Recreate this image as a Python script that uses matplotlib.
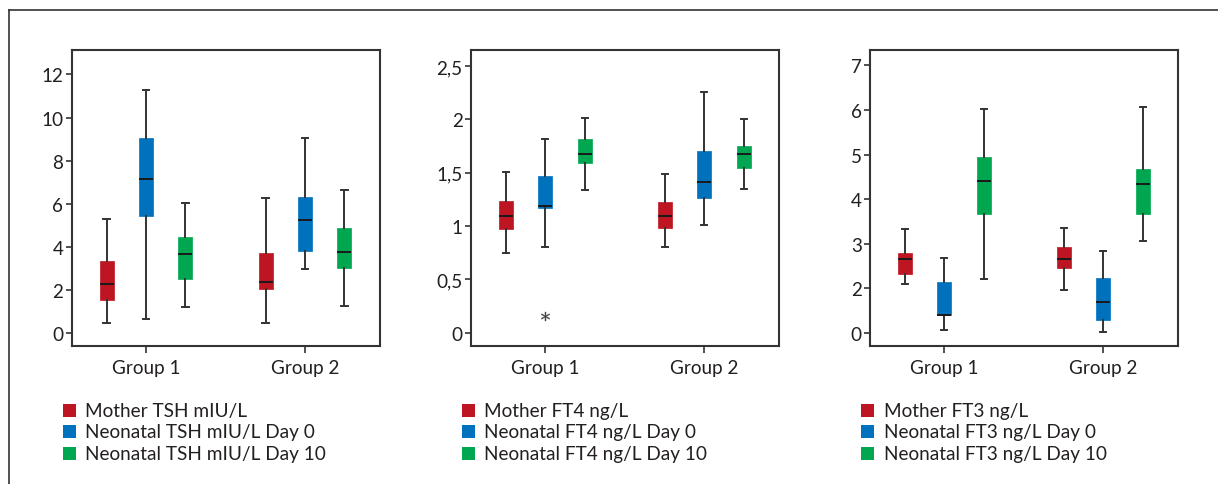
import matplotlib
matplotlib.use("Agg")
import matplotlib.pyplot as plt
from matplotlib.patches import Rectangle
from matplotlib.lines import Line2D

plt.rcParams['font.family'] = ['Lato', 'DejaVu Sans']

groups = ['Group 1', 'Group 2']
colors = ['#BE1522', '#0071BC', '#00A650']

# five-number summaries per series: [low, q1, median, q3, high] for Group 1 and Group 2
tsh_mother = [[0.48, 1.55, 2.28, 3.33, 5.28], [0.48, 2.06, 2.38, 3.70, 6.27]]
tsh_day0 = [[0.64, 5.45, 7.15, 9.04, 11.3], [2.97, 3.82, 5.26, 6.30, 9.06]]
tsh_day10 = [[1.22, 2.52, 3.67, 4.44, 6.05], [1.24, 3.03, 3.78, 4.86, 6.66]]

ft4_mother = [[0.746, 0.974, 1.092, 1.239, 1.504], [0.799, 0.983, 1.092, 1.23, 1.489]]
ft4_day0 = [[0.799, 1.17, 1.186, 1.467, 1.816], [1.011, 1.264, 1.417, 1.707, 2.257]]
ft4_day10 = [[1.336, 1.592, 1.673, 1.82, 2.01], [1.348, 1.545, 1.673, 1.754, 2.007]]
ft4_outliers = [[], [0.153], [], [], [], []]

# FT3 axis: equally spaced ticks, the lowest one is printed as "0"
ft3_mother = [[2.09, 2.317, 2.646, 2.80, 3.32], [1.965, 2.459, 2.646, 2.915, 3.34]]
ft3_day0 = [[1.067, 1.389, 1.397, 2.13, 2.676], [1.015, 1.292, 1.696, 2.227, 2.825]]
ft3_day10 = [[2.21, 3.67, 4.40, 4.94, 6.03], [3.06, 3.67, 4.34, 4.67, 6.07]]

tsh_ticks = [0, 2, 4, 6, 8, 10, 12]
tsh_labels = ['0', '2', '4', '6', '8', '10', '12']
ft4_ticks = [0, 0.5, 1, 1.5, 2, 2.5]
ft4_labels = ['0', '0,5', '1', '1,5', '2', '2,5']
ft3_ticks = [1, 2, 3, 4, 5, 6, 7]
ft3_labels = ['0', '2', '3', '4', '5', '6', '7']

tsh_legend = ['Mother TSH mIU/L', 'Neonatal TSH mIU/L Day 0', 'Neonatal TSH mIU/L Day 10']
ft4_legend = ['Mother FT4 ng/L', 'Neonatal FT4 ng/L Day 0', 'Neonatal FT4 ng/L Day 10']
ft3_legend = ['Mother FT3 ng/L', 'Neonatal FT3 ng/L Day 0', 'Neonatal FT3 ng/L Day 10']

W, H = 1218, 485
fig = plt.figure(figsize=(W / 100, H / 100), dpi=100)

dark = '#333333'
txt = '#231f20'
ax_left = [71.7, 471, 870]
ax_w = 308.3
ax_top, ax_bot = 50.5, 346.7


def make_stats(series, outliers):
    stats = []
    k = 0
    for gi in range(2):
        for s in series:
            lo, q1, med, q3, hi = s[gi]
            stats.append(dict(whislo=lo, q1=q1, med=med, q3=q3, whishi=hi,
                              fliers=outliers[k] if outliers else []))
            k += 1
    return stats


def draw_panel(i, series, ylim, ticks, labels, legend, outliers=None):
    ax = fig.add_axes([ax_left[i] / W, 1 - ax_bot / H, ax_w / W, (ax_bot - ax_top) / H])
    off = 0.248
    pos = []
    for g in [1, 2]:
        pos += [g - off, g, g + off]
    stats = make_stats(series, outliers)
    bp = ax.bxp(stats, positions=pos, widths=0.088, capwidths=0.04,
                patch_artist=True, showfliers=True,
                whiskerprops=dict(color=dark, linewidth=1.4),
                capprops=dict(color=dark, linewidth=1.4),
                medianprops=dict(color='#1a1a1a', linewidth=1.4),
                flierprops=dict(marker='$*$', markersize=6.5, markeredgewidth=0.2,
                                markerfacecolor='#444444', markeredgecolor='#444444'))
    for j, box in enumerate(bp['boxes']):
        box.set_facecolor(colors[j % 3])
        box.set_edgecolor(colors[j % 3])
        box.set_linewidth(0.5)
    ax.set_xlim(0.533, 2.472)
    ax.set_ylim(*ylim)
    ax.set_xticks([1, 2])
    ax.set_xticklabels(groups)
    ax.set_yticks(ticks)
    ax.set_yticklabels(labels)
    ax.tick_params(axis='y', length=4, width=1.2, color=dark, pad=2,
                   labelsize=13.6, labelcolor=txt)
    ax.tick_params(axis='x', length=5, width=1.2, color=dark, pad=4.5,
                   labelsize=13.6, labelcolor=txt)
    for sp in ax.spines.values():
        sp.set_color(dark)
        sp.set_linewidth(1.5)

    # legend block under the panel
    x0 = ax_left[i] - 9
    for r, lab in enumerate(legend):
        yc = 411.7 + r * 21.2
        fig.add_artist(Rectangle((x0 / W, 1 - (yc + 6.5) / H), 13 / W, 13 / H,
                                 transform=fig.transFigure, facecolor=colors[r],
                                 edgecolor='none'))
        fig.text((x0 + 22.5) / W, 1 - yc / H, lab, fontsize=13.7, color=txt,
                 va='center', ha='left')
    return ax


draw_panel(0, [tsh_mother, tsh_day0, tsh_day10], (-0.59, 13.16),
           tsh_ticks, tsh_labels, tsh_legend)
draw_panel(1, [ft4_mother, ft4_day0, ft4_day10], (-0.122, 2.656),
           ft4_ticks, ft4_labels, ft4_legend, ft4_outliers)
draw_panel(2, [ft3_mother, ft3_day0, ft3_day10], (0.708, 7.359),
           ft3_ticks, ft3_labels, ft3_legend)

# outer frame: top and left edges only
fig.add_artist(Line2D([9 / W, 9 / W], [0, 1 - 10.7 / H], transform=fig.transFigure,
                      color=dark, linewidth=1.2))
fig.add_artist(Line2D([9 / W, 1], [1 - 10.7 / H, 1 - 10.7 / H], transform=fig.transFigure,
                      color=dark, linewidth=1.2))

fig.savefig('out.png', dpi=100)
